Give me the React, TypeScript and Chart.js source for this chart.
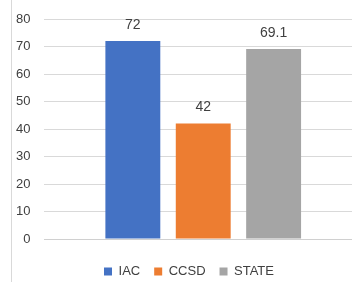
import React, { useEffect, useRef } from "react";
import { Chart, registerables } from "chart.js";

Chart.register(...registerables);

const categories = [""];
const seriesNames = ["IAC", "CCSD", "STATE"];
const seriesValues = [72, 42, 69.1];
const seriesColors = ["#4472C4", "#ED7D31", "#A5A5A5"];
const yTicks = [0, 10, 20, 30, 40, 50, 60, 70, 80];

const FONT = "'Liberation Sans', Arial, sans-serif";

const valueLabels = {
  id: "valueLabels",
  afterDatasetsDraw(chart: any) {
    const ctx = chart.ctx;
    ctx.save();
    ctx.font = `14px ${FONT}`;
    ctx.fillStyle = "#404040";
    ctx.textAlign = "center";
    ctx.textBaseline = "bottom";
    chart.data.datasets.forEach((ds: any, i: number) => {
      const meta = chart.getDatasetMeta(i);
      meta.data.forEach((bar: any, j: number) => {
        ctx.fillText(String(ds.data[j]), bar.x, bar.y - 9);
      });
    });
    ctx.restore();
  },
};

const legendShift = {
  id: "legendShift",
  afterLayout(chart: any) {
    const lg = chart.legend;
    if (lg) {
      lg.left += 7;
      lg.right += 7;
    }
  },
};

export default function App() {
  const ref = useRef<HTMLCanvasElement | null>(null);
  useEffect(() => {
    document.documentElement.style.overflow = "hidden";
    document.body.style.overflow = "hidden";
    const chart = new Chart(ref.current!, {
      type: "bar",
      data: {
        labels: categories,
        datasets: seriesNames.map((n, i) => ({
          label: n,
          data: [seriesValues[i]],
          backgroundColor: seriesColors[i],
          borderWidth: 0,
          categoryPercentage: 0.665,
          barPercentage: 0.78,
        })),
      },
      options: {
        animation: false,
        responsive: false,
        maintainAspectRatio: false,
        layout: { padding: { left: 2, right: 0, top: 19, bottom: -6 } },
        plugins: {
          tooltip: { enabled: false },
          legend: {
            position: "bottom",
            labels: {
              boxWidth: 8,
              boxHeight: 8,
              padding: 14,
              color: "#404040",
              font: { family: FONT, size: 13 },
            },
          },
        },
        scales: {
          x: {
            grid: { display: false, drawTicks: false },
            border: { display: true, color: "#d0d0d0" },
            ticks: { display: false },
            afterFit: (s: any) => {
              s.height = 12;
            },
          },
          y: {
            min: 0,
            max: 80,
            afterBuildTicks: (s: any) => {
              s.ticks = yTicks.map((v) => ({ value: v }));
            },
            afterFit: (s: any) => {
              s.paddingTop = 7;
              s.paddingBottom = 7;
            },
            grid: { color: "#d9d9d9", drawTicks: false },
            border: { display: false },
            ticks: {
              padding: 14,
              color: "#404040",
              font: { family: FONT, size: 13 },
            },
          },
        },
      },
      plugins: [valueLabels, legendShift],
    });
    return () => chart.destroy();
  }, []);
  return (
    <div style={{ position: "fixed", left: 0, top: 0, width: 362, height: 282, background: "#fff" }}>
      <canvas ref={ref} width={362} height={282} style={{ display: "block" }} />
      <div style={{ position: "absolute", left: 11, top: 0, width: 1, height: 282, background: "#d9d9d9" }} />
    </div>
  );
}
